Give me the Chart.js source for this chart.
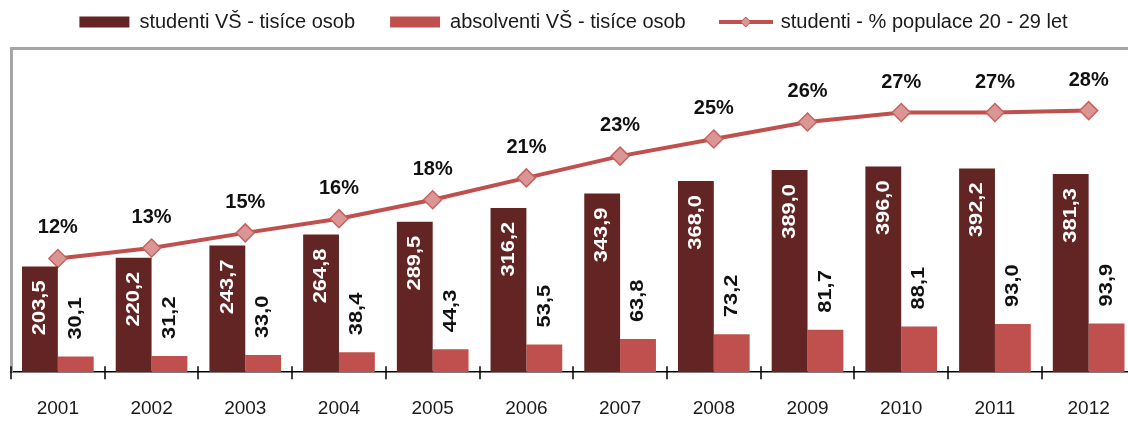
<!DOCTYPE html>
<html><head><meta charset="utf-8">
<script src="https://cdn.jsdelivr.net/npm/chart.js@4.4.0/dist/chart.umd.min.js"></script>
<style>
html,body{margin:0;padding:0;overflow:hidden;background:#fff;width:1128px;height:421px}
#wrap{position:absolute;left:0;top:0;width:1146px;height:421px}
</style>
</head><body><div id="wrap"><canvas id="c"></canvas></div>
<script>
// ---- data ----
const years = ['2001','2002','2003','2004','2005','2006','2007','2008','2009','2010','2011','2012'];
const students = [203.5,220.2,243.7,264.8,289.5,316.2,343.9,368.0,389.0,396.0,392.2,381.3];
const graduates = [30.1,31.2,33.0,38.4,44.3,53.5,63.8,73.2,81.7,88.1,93.0,93.9];
const studentShare = [12.0,13.1,14.7,16.2,18.2,20.5,22.8,24.6,26.4,27.4,27.4,27.6];
const seriesNames = ['studenti VŠ - tisíce osob','absolventi VŠ - tisíce osob','studenti - % populace 20 - 29 let'];

const FONT = '"Liberation Sans", Arial, sans-serif';
Chart.defaults.font.family = FONT;
const DARK = '#632523', LIGHT = '#C0504D', LINE = '#C0504D', DIAMOND = '#DA9694';

const fmt = v => v.toFixed(1).replace('.', ',');

// legend glyph for the line series
const legendLine = document.createElement('canvas');
legendLine.width = 54; legendLine.height = 14;
(function(){
  const g = legendLine.getContext('2d');
  g.strokeStyle = LINE; g.lineWidth = 4;
  g.beginPath(); g.moveTo(0,7); g.lineTo(54,7); g.stroke();
  g.beginPath(); g.moveTo(27,2); g.lineTo(32,7); g.lineTo(27,12); g.lineTo(22,7); g.closePath();
  g.fillStyle = DIAMOND; g.fill(); g.strokeStyle = LINE; g.lineWidth = 1; g.stroke();
})();

const decor = {
  id: 'decor',
  beforeDatasetsDraw(chart) {
    const a = chart.chartArea, ctx = chart.ctx;
    ctx.save();
    ctx.strokeStyle = '#A6A6A6'; ctx.lineWidth = 3;
    ctx.beginPath();
    ctx.moveTo(a.left + 0.5, a.bottom);
    ctx.lineTo(a.left + 0.5, a.top - 0.5);
    ctx.lineTo(a.right - 1, a.top - 0.5);
    ctx.lineTo(a.right - 1, a.bottom);
    ctx.stroke();
    ctx.restore();
  },
  afterDraw(chart) {
    const a = chart.chartArea, ctx = chart.ctx, xs = chart.scales.x;
    ctx.save();
    ctx.strokeStyle = '#000'; ctx.lineWidth = 1.5;
    for (let i = 0; i <= years.length; i++) {
      const x = Math.round(xs.getPixelForValue(i - 0.5));
      ctx.beginPath(); ctx.moveTo(x, a.bottom - 6); ctx.lineTo(x, a.bottom + 7); ctx.stroke();
    }
    ctx.restore();
  },
  afterDatasetsDraw(chart) {
    const ctx = chart.ctx;
    const m0 = chart.getDatasetMeta(0), m1 = chart.getDatasetMeta(1), m2 = chart.getDatasetMeta(2);
    ctx.save();
    ctx.font = 'bold 19px ' + FONT;
    m0.data.forEach((bar, i) => {
      ctx.save();
      ctx.translate(bar.x, bar.y + 14);
      ctx.rotate(-Math.PI / 2);
      ctx.scale(1.15, 1);
      ctx.textAlign = 'right'; ctx.textBaseline = 'middle';
      ctx.fillStyle = '#fff';
      ctx.fillText(fmt(students[i]), 0, 0);
      ctx.restore();
    });
    m1.data.forEach((bar, i) => {
      ctx.save();
      ctx.translate(bar.x, bar.y - 17);
      ctx.rotate(-Math.PI / 2);
      ctx.scale(1.15, 1);
      ctx.textAlign = 'left'; ctx.textBaseline = 'middle';
      ctx.fillStyle = '#111';
      ctx.fillText(fmt(graduates[i]), 0, 0);
      ctx.restore();
    });
    ctx.font = 'bold 20px ' + FONT;
    ctx.textAlign = 'center'; ctx.textBaseline = 'alphabetic'; ctx.fillStyle = '#111';
    m2.data.forEach((pt, i) => {
      ctx.fillText(Math.round(studentShare[i]) + '%', pt.x, pt.y - 25);
    });
    ctx.restore();
  }
};

new Chart(document.getElementById('c'), {
  data: {
    labels: years,
    datasets: [
      { type: 'bar', label: seriesNames[0], data: students, backgroundColor: DARK, yAxisID: 'y',
        categoryPercentage: 0.765, barPercentage: 1.0, borderWidth: 0 },
      { type: 'bar', label: seriesNames[1], data: graduates, backgroundColor: LIGHT, yAxisID: 'y',
        categoryPercentage: 0.765, barPercentage: 1.0, borderWidth: 0 },
      { type: 'line', label: seriesNames[2], data: studentShare, yAxisID: 'y1',
        borderColor: LINE, borderWidth: 4, tension: 0, fill: false,
        pointStyle: 'rectRot', pointRadius: 9, pointHoverRadius: 9,
        pointBackgroundColor: DIAMOND, pointBorderColor: '#C8625F', pointBorderWidth: 1.5 }
    ]
  },
  options: {
    responsive: true, maintainAspectRatio: false, animation: false, devicePixelRatio: 1,
    layout: { padding: { left: 11, right: 10, top: -23, bottom: -24 } },
    plugins: {
      tooltip: { enabled: false },
      title: { display: true, text: '', position: 'top', weight: 500, padding: 0, font: { size: 7, lineHeight: 1 } },
      legend: {
        position: 'top', align: 'center',
        labels: {
          usePointStyle: true, pointStyleWidth: 50, boxHeight: 11, padding: 35,
          color: '#1a1a1a', font: { size: 20, family: FONT },
          generateLabels(chart) {
            const items = Chart.defaults.plugins.legend.labels.generateLabels(chart);
            items[0].pointStyle = 'rect';
            items[1].pointStyle = 'rect';
            items[2].pointStyle = legendLine;
            items.forEach(it => { it.lineWidth = 0; });
            return items;
          }
        }
      }
    },
    scales: {
      x: {
        offset: true,
        grid: { display: false, drawTicks: false, tickLength: 0, offset: true },
        border: { display: true, color: '#000', width: 1.5 },
        ticks: { color: '#1a1a1a', font: { size: 19, family: FONT }, padding: 25, maxRotation: 0, autoSkip: false }
      },
      y: { display: false, min: 0, max: 622 },
      y1: { display: false, min: 0, max: 34.1, position: 'right' }
    }
  },
  plugins: [decor]
});
</script>
</body></html>
